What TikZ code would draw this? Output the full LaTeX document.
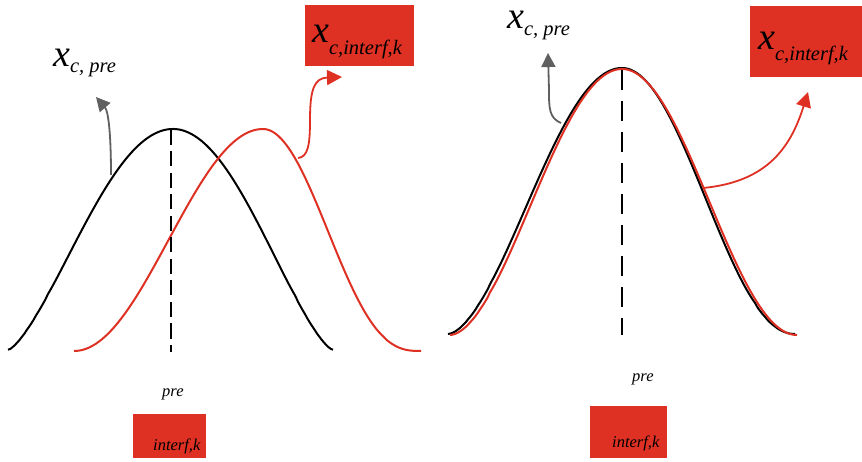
\documentclass[tikz,border=0pt]{standalone}
\usepackage{fontspec}
\setmainfont{Liberation Serif}
\usetikzlibrary{arrows.meta}

\definecolor{sigred}{RGB}{222,49,36}
\definecolor{arrgray}{RGB}{96,96,96}
\newcommand{\lowsub}[2][7pt]{\raisebox{-#1}{\fontsize{20.5}{22}\selectfont #2}}

\begin{document}
\begin{tikzpicture}[
        x=1pt, y=-1pt,
        declare function={bump(\xx,\cc,\dl,\dr,\pl,\pr)=(\xx<\cc) ? pow(max((1+cos((\xx-\cc)/\dl*180))/2,0.0001),\pl) : pow(max((1+cos((\xx-\cc)/\dr*180))/2,0.0001),\pr);},
        bell/.style={line width=2pt, smooth, samples=140},
        pulse/.style={bell, draw=sigred},
        axisdash/.style={line width=2.4pt, dash pattern=on #1},
        garrow/.style={draw=arrgray, line width=1.8pt, -{Triangle[length=14pt, width=14pt]}},
        rarrow/.style={draw=sigred, line width=1.8pt, -{Triangle[length=15pt, width=15pt]}},
        redbox/.style={fill=sigred, draw=none, inner sep=0pt},
        bigx/.style={anchor=base west, inner sep=0pt, text height=18pt, font=\itshape\fontsize{38}{40}\selectfont},
        smallit/.style={anchor=base west, inner sep=0pt, font=\itshape\fontsize{16.5}{18}\selectfont}
    ]
    \useasboundingbox (0,0) rectangle (862,462);

    % left: shifted pulse
    \begin{scope}
        \draw[bell] plot[domain=8:333] (\x,{350-221*bump(\x,173,165,160,0.7,0.7)});
        \draw[pulse] plot[domain=74:421] (\x,{351-222*bump(\x,263,189,158,1,1.37)});
        \coordinate (lpeak) at (171,130);
        \coordinate (lfoot) at (171,352);
        \draw[axisdash={15pt off 6.5pt}] (lpeak) -- (lfoot);

        \coordinate (lg0) at (111,175);
        \coordinate (lg1) at (96,97);
        \draw[garrow] (lg0) .. controls (111,140) and (109,112) .. (lg1);
        \coordinate (lr0) at (298,158);
        \coordinate (lr1) at (342,77);
        \draw[rarrow] (lr0) .. controls (308,157) and (310,145) .. (310,120)
            .. controls (310,90) and (314,78) .. (lr1);

        \node[bigx] (lpre) at (53,67) {x\lowsub[6pt]{c, pre}};
        \node[redbox, minimum width=109pt, minimum height=61pt] (lbox) at (359.5,35.5) {};
        \node[bigx] (linterf) at (312,43) {x\lowsub[12pt]{c,interf,k}};

        \node[smallit] (lpretxt) at (162,396) {pre};
        \node[redbox, minimum width=73pt, minimum height=44pt] (lsmall) at (169.5,436) {};
        \node[smallit] (linterftxt) at (153,450) {interf,k};
    \end{scope}

    % right: matched pulse
    \begin{scope}
        \draw[bell] plot[domain=448:795] (\x,{334-266*bump(\x,622,174,173,0.85,1.05)});
        \draw[pulse] plot[domain=450:797] (\x,{335-266*bump(\x,622,172,175,0.9,1.0)});
        \coordinate (rpeak) at (622,70);
        \coordinate (rfoot) at (622,335);
        \draw[axisdash={20pt off 11pt}] (rpeak) -- (rfoot);

        \coordinate (rg0) at (561,123);
        \coordinate (rg1) at (548,53);
        \draw[garrow] (rg0) .. controls (549,118) and (549,108) .. (549,90) -- (rg1);
        \coordinate (rr0) at (703,188);
        \coordinate (rr1) at (808,92);
        \draw[rarrow] (rr0) .. controls (765,182) and (790,150) .. (rr1);

        \node[bigx] (rpre) at (507,29) {x\lowsub[7pt]{c, pre}};
        \node[redbox, minimum width=112pt, minimum height=71pt] (rbox) at (806,41.5) {};
        \node[bigx] (rinterf) at (758,50) {x\lowsub[11pt]{c,interf,k}};

        \node[smallit] (rpretxt) at (632,381) {pre};
        \node[redbox, minimum width=77pt, minimum height=52pt] (rsmall) at (628.5,432) {};
        \node[smallit] (rinterftxt) at (612,447) {interf,k};
    \end{scope}

\end{tikzpicture}
\end{document}
